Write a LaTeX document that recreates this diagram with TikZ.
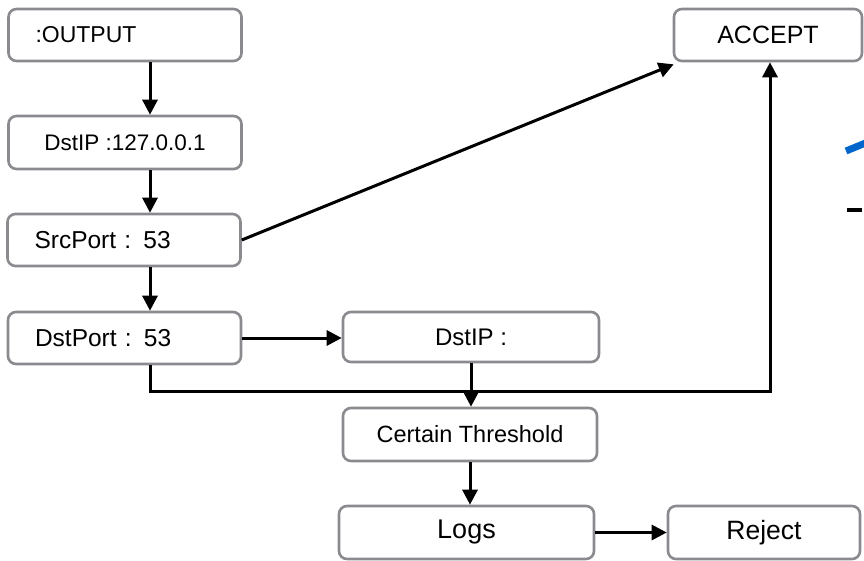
\documentclass[tikz,border=0pt]{standalone}
\usepackage{fontspec}
\setmainfont{Liberation Sans}
\usetikzlibrary{arrows.meta}
\definecolor{boxgray}{RGB}{138,139,143}
\definecolor{markblue}{RGB}{0,102,204}
\newcommand{\px}[1]{\fontsize{#1}{#1}\selectfont}

\begin{document}
\begin{tikzpicture}
[x=1pt,y=-1pt,%
  every node/.style={shape=rectangle,draw=boxgray,line width=2.6pt,rounded corners=8pt,fill=white,inner sep=0pt,minimum height=52pt},%
  leftbox/.style={inner xsep=27pt,text width=179pt,align=left},%
  flow/.style={-{Triangle[length=15pt,width=15pt]},line width=3pt,black}]
\useasboundingbox (0,0) rectangle (864,561);
\clip (0,0) rectangle (864,561);
\coordinate (spine) at (150,0);
\coordinate (join) at (770,391);
% left column
\node[leftbox,font=\px{23}] (output) at (125,35) {:OUTPUT};
\node[minimum width=233pt,minimum height=53pt,font=\px{22.5}] (dstip) at (125,142.5) {DstIP :127.0.0.1};
\node[leftbox,font=\px{24.5}] (srcport) at (124,240) {SrcPort : 53};
\node[leftbox,font=\px{24.5}] (dstport) at (124.5,338) {DstPort : 53};
% middle and right
\node[minimum width=256pt,minimum height=50pt,font=\px{24}] (dstipq) at (471,337) {DstIP :};
\node[minimum width=254pt,minimum height=53pt,font=\px{23.5}] (threshold) at (470,434.5) {Certain Threshold};
\node[minimum width=255pt,minimum height=53pt,font=\px{27}] (logs) at (466.5,532.5) {Logs};
\node[minimum width=192pt,minimum height=53pt,font=\px{26.5}] (reject) at (764,532.5) {Reject};
\node[minimum width=188pt,font=\px{25}] (accept) at (768,35) {ACCEPT};
\path
(output.south -| spine) edge[flow] (dstip.north -| spine)
(dstip.south -| spine) edge[flow] (srcport.north -| spine)
(srcport.south -| spine) edge[flow] (dstport.north -| spine)
(srcport.east) edge[flow] ([xshift=1pt,yshift=-2pt]accept.south west)
(dstport.east) edge[flow] (dstport.east -| dstipq.west)
(dstipq.south) edge[flow] (dstipq.south |- threshold.north)
(threshold.south) edge[flow] (threshold.south |- logs.north)
(logs.east) edge[flow] (logs.east -| reject.west);
\draw[flow] (dstport.south -| spine) |- (join) -- (join |- accept.south);
% cut-off marks at the right edge
\draw[markblue,line width=7pt] (846,151) -- (868,142);
\draw[line width=3.5pt] (847,210) -- (862,210);
\end{tikzpicture}
\end{document}
